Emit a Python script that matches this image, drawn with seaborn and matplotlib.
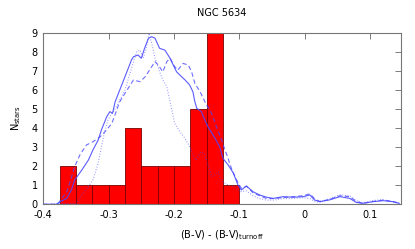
import matplotlib
matplotlib.use("Agg")
import matplotlib.pyplot as plt
import seaborn as sns
import numpy as np
import pandas as pd

# Histogram data
bin_edges = [-0.375, -0.35, -0.325, -0.3, -0.275, -0.25, -0.225, -0.2, -0.175, -0.15, -0.125, -0.1, -0.075]
bin_counts = [2, 1, 1, 1, 4, 2, 2, 2, 5, 9, 1, 0]

# Solid curve
solid_x = [-0.4, -0.38, -0.374, -0.364, -0.357, -0.352, -0.341, -0.331, -0.324, -0.316, -0.311, -0.303,
           -0.298, -0.294, -0.290, -0.283, -0.275, -0.265, -0.262, -0.255, -0.250, -0.245, -0.239,
           -0.234, -0.229, -0.222, -0.214, -0.206, -0.201, -0.196, -0.191, -0.183, -0.176, -0.171,
           -0.168, -0.165, -0.158, -0.155, -0.148, -0.140, -0.130, -0.125, -0.117, -0.109, -0.102,
           -0.097, -0.089, -0.079, -0.069, -0.058, -0.048, -0.033, -0.018, -0.002, 0.008, 0.015,
           0.023, 0.038, 0.054, 0.069, 0.079, 0.089, 0.105, 0.120, 0.135, 0.145]
solid_y = [0, 0, 0.14, 0.31, 0.75, 1.27, 1.80, 2.32, 2.85, 3.37, 3.90, 4.59,
           4.86, 4.77, 5.38, 5.99, 6.69, 7.57, 7.74, 7.83, 7.66, 8.18, 8.71,
           8.79, 8.71, 8.18, 8.09, 7.66, 7.30, 6.95, 6.78, 6.52, 6.26, 5.90,
           5.38, 5.03, 4.86, 4.59, 4.07, 3.63, 3.02, 2.41, 2.06, 1.63, 1.01,
           0.75, 0.96, 0.66, 0.49, 0.37, 0.31, 0.40, 0.37, 0.40, 0.49, 0.23,
           0.14, 0.23, 0.40, 0.31, 0.10, 0.05, 0.14, 0.19, 0.14, 0.05]

# Dashed curve
dashed_x = [-0.4, -0.38, -0.377, -0.364, -0.359, -0.352, -0.344, -0.334, -0.324, -0.313, -0.303,
            -0.295, -0.283, -0.275, -0.262, -0.252, -0.244, -0.234, -0.229, -0.224, -0.217,
            -0.211, -0.206, -0.199, -0.194, -0.186, -0.178, -0.173, -0.168, -0.160, -0.155,
            -0.150, -0.145, -0.140, -0.137, -0.132, -0.127, -0.122, -0.117, -0.115, -0.110,
            -0.104, -0.097, -0.089, -0.079, -0.069, -0.058, -0.048, -0.033, -0.018, -0.002,
            0.008, 0.015, 0.023, 0.038, 0.054, 0.069, 0.079, 0.089, 0.105, 0.120, 0.135, 0.145]
dashed_y = [0, 0, 0.05, 0.66, 1.18, 1.97, 2.59, 3.11, 3.28, 3.54, 3.90,
            4.25, 5.38, 5.82, 6.52, 6.43, 6.69, 7.22, 7.48, 7.30, 6.95,
            7.48, 7.66, 7.22, 7.04, 7.39, 7.30, 6.95, 6.34, 5.90, 5.55,
            5.20, 4.94, 4.59, 4.25, 3.81, 3.37, 2.85, 2.41, 2.15, 1.71,
            1.27, 0.84, 0.95, 0.60, 0.45, 0.30, 0.30, 0.35, 0.40, 0.45,
            0.55, 0.30, 0.15, 0.25, 0.45, 0.40, 0.15, 0.05, 0.15, 0.22, 0.15, 0.05]

# Dotted curve
dotted_x = [-0.4, -0.35, -0.341, -0.331, -0.324, -0.316, -0.311, -0.306, -0.301, -0.295, -0.288,
            -0.275, -0.265, -0.257, -0.252, -0.247, -0.242, -0.238, -0.234, -0.229, -0.222,
            -0.217, -0.211, -0.206, -0.199, -0.191, -0.183, -0.176, -0.171, -0.166, -0.163,
            -0.158, -0.153, -0.148, -0.142, -0.137, -0.132, -0.130, -0.125, -0.117, -0.107,
            -0.099, -0.089, -0.079, -0.069, -0.058, -0.048, -0.033, -0.018, -0.002, 0.008,
            0.015, 0.023, 0.038, 0.054, 0.069, 0.079, 0.089, 0.105, 0.120, 0.135, 0.145]
dotted_y = [0, 0.05, 0.49, 0.92, 1.27, 2.15, 3.02, 3.81, 4.42, 4.77, 5.12,
            5.99, 7.13, 8.00, 8.09, 7.66, 8.26, 8.97, 8.44, 7.66, 6.95,
            6.52, 6.17, 5.40, 4.25, 3.81, 3.46, 3.02, 2.59, 2.32, 2.50,
            2.76, 2.59, 2.06, 1.45, 1.54, 1.71, 1.45, 1.18, 1.01, 0.92,
            0.66, 0.70, 0.45, 0.30, 0.22, 0.22, 0.30, 0.30, 0.35, 0.30,
            0.15, 0.10, 0.30, 0.50, 0.45, 0.20, 0.08, 0.20, 0.25, 0.12, 0.05]

title = "NGC 5634"
xlabel = "(B-V) - (B-V)$_{\\mathrm{turnoff}}$"
ylabel = "N$_{\\mathrm{stars}}$"
xticks = [-0.4, -0.3, -0.2, -0.1, 0, 0.1]
xticklabels = ["-0.4", "-0.3", "-0.2", "-0.1", "0", "0.1"]
yticks = [0, 1, 2, 3, 4, 5, 6, 7, 8, 9]

sns.set_style("white")
plt.rcParams['font.family'] = ['DejaVu Sans']
plt.rcParams['text.color'] = 'black'
plt.rcParams['axes.labelcolor'] = 'black'

fig = plt.figure(figsize=(4.15, 2.49), dpi=100)
ax = fig.add_axes([0.1043, 0.1795, 0.8612, 0.6892])

centers = [(bin_edges[i] + bin_edges[i + 1]) / 2 for i in range(len(bin_counts))]
sns.histplot(x=centers, weights=bin_counts, bins=bin_edges, ax=ax,
             color="#ff0000", edgecolor="#7a0000", linewidth=0.6, alpha=1.0, zorder=2)

line_col = "#4a4aff"
sns.lineplot(x=solid_x, y=solid_y, ax=ax, color=line_col, linewidth=0.8, alpha=0.9, zorder=3, sort=False)
sns.lineplot(x=dashed_x, y=dashed_y, ax=ax, color=line_col, linewidth=0.8, alpha=0.8, zorder=3, sort=False)
ax.lines[-1].set_dashes([4, 2.5])
sns.lineplot(x=dotted_x, y=dotted_y, ax=ax, color=line_col, linewidth=0.8, alpha=0.6, zorder=3, sort=False)
ax.lines[-1].set_dashes([0.8, 1.6])

ax.set_xlim(-0.4, 0.147)
ax.set_ylim(0, 9)
ax.set_xticks(xticks)
ax.set_xticklabels(xticklabels)
ax.set_yticks(yticks)
ax.tick_params(axis='both', which='both', direction='in', length=4, width=0.6,
               color='#666666', labelcolor='black', labelsize=7, top=True, right=True, pad=4)
for s in ax.spines.values():
    s.set_color('#777777')
    s.set_linewidth(0.8)
ax.set_xlabel(xlabel, fontsize=7, labelpad=6)
ax.set_ylabel(ylabel, fontsize=7, labelpad=6)
ax.set_title(title, fontsize=7, pad=12)

fig.savefig("out.png", dpi=100)
